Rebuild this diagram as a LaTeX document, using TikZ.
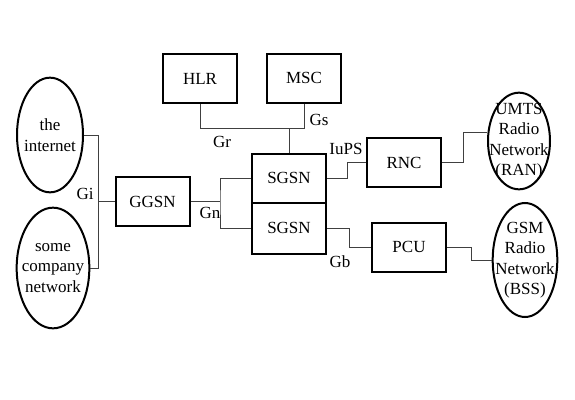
\documentclass[tikz,border=0pt]{standalone}
\usepackage{fontspec}
\setmainfont{Liberation Serif}
\usetikzlibrary{shapes.geometric}
\begin{document}
\begin{tikzpicture}[color = {black},x = 0.75pt,y = -0.75pt,
   txt/.style = {font = \fontsize{12.75}{15.4}\selectfont},
   box/.style = {draw,txt,line width = 1.5pt,minimum width = 55.5pt,minimum height = 36.75pt,inner sep = 0pt},
   net/.style = {draw,ellipse,line width = 1.5pt,inner sep = 0pt},
   link/.style = {draw = black!75,line width = 0.75pt},
   tag/.style = {txt,inner sep = 0pt}]
   \useasboundingbox (0,0) rectangle (575,400);
   % networks
   \node[net,minimum width = 49.5pt,minimum height = 86pt,label = {[txt,align = center]center:{the\\internet}}] (inet) at (50,135) {};
   \node[net,minimum width = 54.5pt,minimum height = 90.5pt,label = {[txt,align = center]center:{some\\company\\network}}] (corp) at (53,268) {};
   \node[net,minimum width = 46.5pt,minimum height = 72.5pt,label = {[txt,align = center]center:{UMTS\\Radio\\Network\\(RAN)}}] (umts) at (519,141) {};
   \node[net,minimum width = 48.5pt,minimum height = 85.5pt,label = {[txt,align = center]center:{GSM\\Radio\\Network\\(BSS)}}] (gsm) at (525,260) {};
   % boxes
   \node[box] (hlr) at (200,78.5) {HLR};
   \node[box] (msc) at (304,78) {MSC};
   \node[box] (ggsn) at (152.5,201.5) {GGSN};
   \node[box] (sgsn1) at (289,178) {SGSN};
   \node[box,minimum height = 38.25pt] (sgsn2) at (289,228) {SGSN};
   \node[box] (rnc) at (404,162.5) {RNC};
   \node[box] (pcu) at (409,247) {PCU};
   % junctions
   \coordinate (gi) at (98,201.5);
   \coordinate (gn) at (220,201.5);
   \coordinate (gr) at (289,128);
   % links
   \draw[link] (inet.east) -| (gi) -- (ggsn.west);
   \draw[link] (corp.east) -| (gi);
   \draw[link] (ggsn.east) -- (gn);
   \draw[link] (sgsn1.west) -| (gn) |- (sgsn2.west);
   \draw[link] (hlr.south) |- (gr) -- (sgsn1.north);
   \draw[link] (msc.south) |- (gr);
   \draw[link] (sgsn1.east) -- ++(20,0) |- (rnc.west);
   \draw[link] (rnc.east) -- ++(21,0) |- (umts.165);
   \draw[link] (sgsn2.east) -- ++(22,0) |- (pcu.west);
   \draw[link] (pcu.east) -- ++(24,0) |- (gsm.west);
   % interface names
   \node[tag] (lgi) at (85,194) {Gi};
   \node[tag] (lgn) at (210,213) {Gn};
   \node[tag] (lgr) at (222,142) {Gr};
   \node[tag] (lgs) at (319,120) {Gs};
   \node[tag] (liups) at (346,149) {IuPS};
   \node[tag] (lgb) at (340,262) {Gb};
\end{tikzpicture}
\end{document}
